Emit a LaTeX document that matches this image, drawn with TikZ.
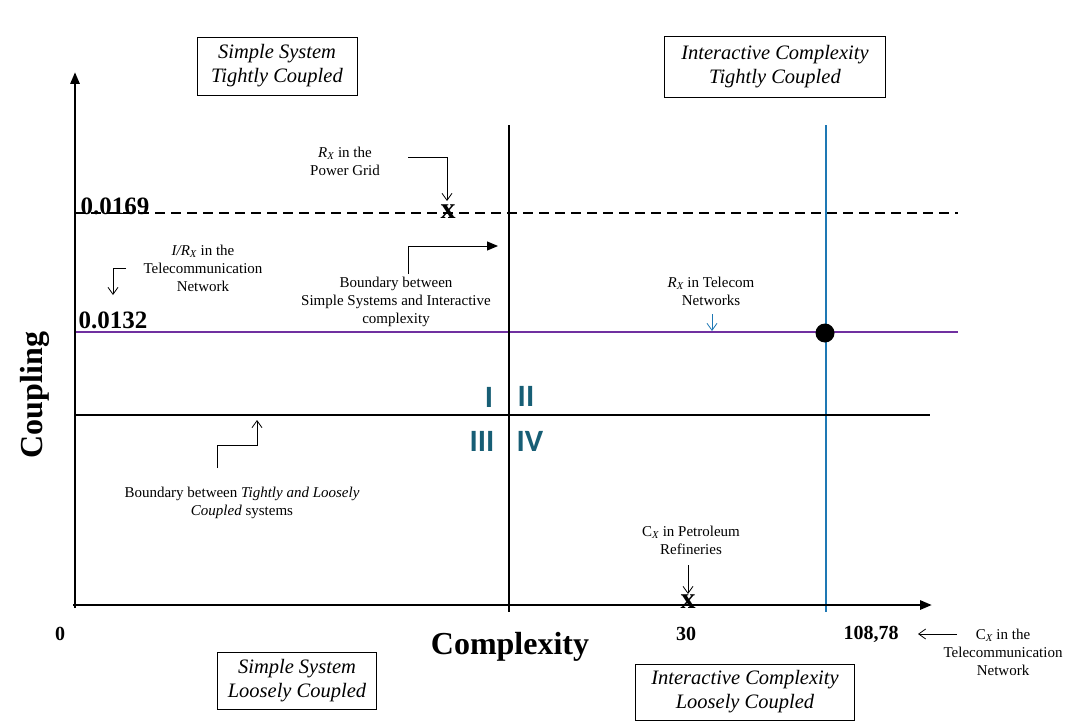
\documentclass[tikz,border=0pt]{standalone}
\usepackage{fontspec}
\setmainfont{Liberation Serif}
\newfontfamily\romfont{Carlito}
\usetikzlibrary{arrows.meta}
\definecolor{purp}{RGB}{112,48,160}
\definecolor{lblue}{RGB}{30,120,180}
\definecolor{quadcol}{RGB}{23,94,117}
\tikzset{
  ann/.style={font=\fontsize{15}{18}\selectfont, align=center, inner sep=0pt},
  qbox/.style={draw, line width=0.8pt, fill=white, font=\fontsize{20.5}{24}\selectfont\itshape, align=center, inner sep=0pt},
  bigval/.style={font=\fontsize{25}{28}\selectfont\bfseries, inner sep=0pt},
  tickval/.style={font=\fontsize{20}{24}\selectfont\bfseries, inner sep=0pt},
  axlabel/.style={font=\fontsize{32}{36}\selectfont\bfseries, inner sep=0pt},
  quad/.style={font=\fontsize{31}{36}\selectfont\romfont\bfseries, text=quadcol, inner sep=0pt},
  xmark/.style={font=\fontsize{30}{32}\selectfont\bfseries, inner sep=0pt},
  axisline/.style={line width=2.8pt, -{Triangle[length=12pt,width=9pt]}},
  thick line/.style={line width=2.8pt},
  openarrow/.style={line width=0.8pt, -{Straight Barb[length=7pt,width=10pt]}},
  fillarrow/.style={line width=1pt, -{Triangle[length=11pt,width=9pt]}},
}
\begin{document}
\begin{tikzpicture}[x=1pt,y=-1pt]
\useasboundingbox[fill=white] (0,0) rectangle (1066,725);

% coordinates
\coordinate (yb) at (75,608);
\coordinate (ytip) at (75,72);
\coordinate (xl) at (73,605);
\coordinate (xtip) at (932,605);
\coordinate (vt) at (509,125);
\coordinate (vb) at (509,612);
\coordinate (hl) at (75,415);
\coordinate (hr) at (930,415);
\coordinate (dl) at (75,213);
\coordinate (dr) at (958,213);
\coordinate (pl) at (75,332);
\coordinate (pr) at (958,332);
\coordinate (bt) at (826,125);
\coordinate (bb) at (826,612);

% lines
\draw[line width=2pt, dash pattern=on 10pt off 6pt] (dl) -- (dr);
\draw[purp, line width=2pt] (pl) -- (pr);
\draw[lblue, line width=2pt] (bt) -- (bb);
\draw[thick line] (vt) -- (vb);
\draw[thick line] (hl) -- (hr);
\draw[axisline] (yb) -- (ytip);
\draw[axisline] (xl) -- (xtip);

\node[circle, fill=black, minimum size=19pt, inner sep=0pt] (dot) at (825,333) {};

% x marks
\node[xmark] (xpg) at (448,212) {x};
\node[xmark] (xpe) at (688,602) {x};

% boxes
\node[qbox, minimum width=160pt, minimum height=58pt] (stc) at (277,66) {Simple System\\Tightly Coupled};
\node[qbox, minimum width=221pt, minimum height=61pt] (itc) at (775,67) {Interactive Complexity\\Tightly Coupled};
\node[qbox, minimum width=159pt, minimum height=57pt] (slc) at (297,681) {Simple System\\Loosely Coupled};
\node[qbox, minimum width=219pt, minimum height=56pt] (ilc) at (745,692) {Interactive Complexity\\Loosely Coupled};

% values
\node[bigval] (v169) at (115,206) {0.0169};
\node[bigval] (v132) at (113,320) {0.0132};
\node[tickval] (t0) at (60,634) {0};
\node[tickval] (t30) at (686,634) {30};
\node[tickval] (t108) at (871,634) {108,78};

\node[axlabel] (cplx) at (510,647) {Complexity};
\node[axlabel, rotate=90] (coup) at (35,395) {Coupling};

% quadrant numerals
\node[quad] (q1) at (489,397) {I};
\node[quad] (q2) at (526,396) {II};
\node[quad] (q3) at (482,441) {III};
\node[quad] (q4) at (530,441) {IV};

% annotations
\node[ann] (pg) at (345,161) {{\itshape R}\textsubscript{\itshape X} in the\\Power Grid};
\node[ann] (ir) at (203,268) {{\itshape I/R}\textsubscript{\itshape X} in the\\Telecommunication\\Network};
\node[ann] (ss) at (396,302) {Boundary between\\Simple Systems and Interactive\\complexity};
\node[ann] (tc) at (711,291) {{\itshape R}\textsubscript{\itshape X} in Telecom\\Networks};
\node[ann] (tl) at (242,503) {Boundary between \textit{Tightly and Loosely}\\\textit{Coupled} systems};
\node[ann] (pe) at (691,540) {C\textsubscript{\itshape X} in Petroleum\\Refineries};
\node[ann] (cx) at (1003,652) {C\textsubscript{\itshape X} in the\\Telecommunication\\Network};

% annotation arrows
\coordinate (pg1) at (408,157); \coordinate (pg2) at (447,157); \coordinate (pg3) at (447,201);
\draw[openarrow] (pg1) -- (pg2) -- (pg3);
\coordinate (ir1) at (126,268); \coordinate (ir2) at (113,268); \coordinate (ir3) at (113,295);
\draw[openarrow] (ir1) -- (ir2) -- (ir3);
\coordinate (ss1) at (408,274); \coordinate (ss2) at (408,246); \coordinate (ss3) at (498,246);
\draw[fillarrow] (ss1) -- (ss2) -- (ss3);
\coordinate (tl1) at (217,468); \coordinate (tl2) at (217,445); \coordinate (tl3) at (257,445); \coordinate (tl4) at (257,420);
\draw[openarrow] (tl1) -- (tl2) -- (tl3) -- (tl4);
\coordinate (tc1) at (712,314); \coordinate (tc2) at (712,331);
\draw[openarrow, lblue] (tc1) -- (tc2);
\coordinate (pe1) at (688,565); \coordinate (pe2) at (688,594);
\draw[openarrow] (pe1) -- (pe2);
\coordinate (cx1) at (957,634); \coordinate (cx2) at (918,634);
\draw[openarrow] (cx1) -- (cx2);
\end{tikzpicture}
\end{document}
